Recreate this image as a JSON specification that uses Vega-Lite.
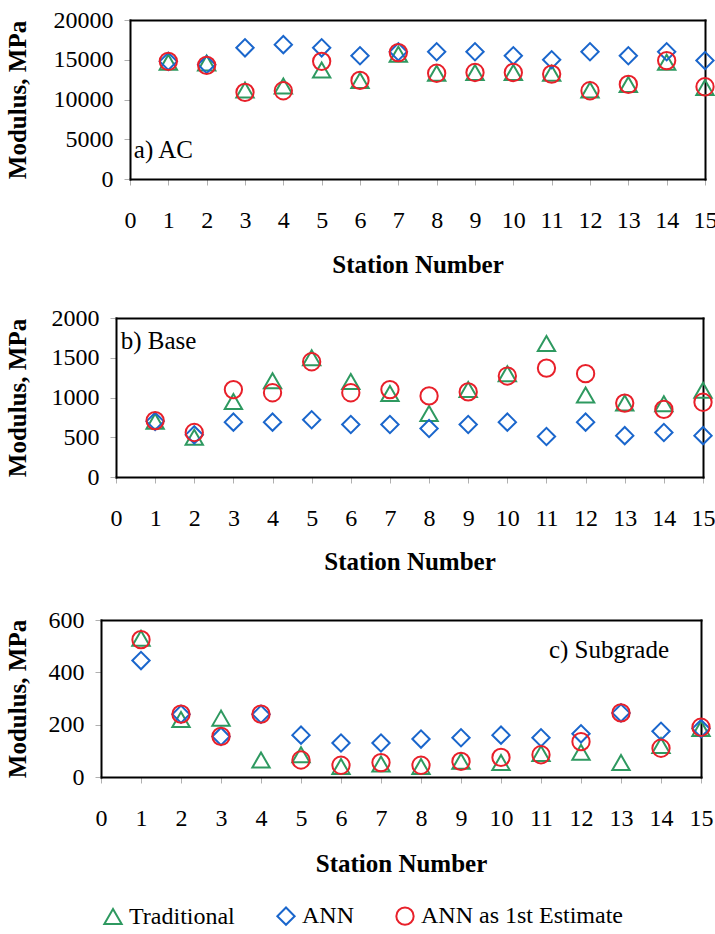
{
  "$schema": "https://vega.github.io/schema/vega-lite/v6.json",
  "padding": {"left": 5, "top": 8, "right": 0, "bottom": 5},
  "datasets": {
    "moduli": [
      {"panel": "AC", "station": 1, "series": "Traditional", "modulus": 14700},
      {"panel": "AC", "station": 2, "series": "Traditional", "modulus": 14600},
      {"panel": "AC", "station": 3, "series": "Traditional", "modulus": 11200},
      {"panel": "AC", "station": 4, "series": "Traditional", "modulus": 11700},
      {"panel": "AC", "station": 5, "series": "Traditional", "modulus": 13700},
      {"panel": "AC", "station": 6, "series": "Traditional", "modulus": 12400},
      {"panel": "AC", "station": 7, "series": "Traditional", "modulus": 15700},
      {"panel": "AC", "station": 8, "series": "Traditional", "modulus": 13300},
      {"panel": "AC", "station": 9, "series": "Traditional", "modulus": 13400},
      {"panel": "AC", "station": 10, "series": "Traditional", "modulus": 13400},
      {"panel": "AC", "station": 11, "series": "Traditional", "modulus": 13300},
      {"panel": "AC", "station": 12, "series": "Traditional", "modulus": 11200},
      {"panel": "AC", "station": 13, "series": "Traditional", "modulus": 11900},
      {"panel": "AC", "station": 14, "series": "Traditional", "modulus": 14700},
      {"panel": "AC", "station": 15, "series": "Traditional", "modulus": 11500},
      {"panel": "AC", "station": 1, "series": "ANN", "modulus": 14800},
      {"panel": "AC", "station": 2, "series": "ANN", "modulus": 14400},
      {"panel": "AC", "station": 3, "series": "ANN", "modulus": 16500},
      {"panel": "AC", "station": 4, "series": "ANN", "modulus": 16900},
      {"panel": "AC", "station": 5, "series": "ANN", "modulus": 16500},
      {"panel": "AC", "station": 6, "series": "ANN", "modulus": 15500},
      {"panel": "AC", "station": 7, "series": "ANN", "modulus": 16000},
      {"panel": "AC", "station": 8, "series": "ANN", "modulus": 16000},
      {"panel": "AC", "station": 9, "series": "ANN", "modulus": 16000},
      {"panel": "AC", "station": 10, "series": "ANN", "modulus": 15500},
      {"panel": "AC", "station": 11, "series": "ANN", "modulus": 15000},
      {"panel": "AC", "station": 12, "series": "ANN", "modulus": 16000},
      {"panel": "AC", "station": 13, "series": "ANN", "modulus": 15500},
      {"panel": "AC", "station": 14, "series": "ANN", "modulus": 16000},
      {"panel": "AC", "station": 15, "series": "ANN", "modulus": 14900},
      {"panel": "AC", "station": 1, "series": "ANN as 1st Estimate", "modulus": 14800},
      {"panel": "AC", "station": 2, "series": "ANN as 1st Estimate", "modulus": 14300},
      {"panel": "AC", "station": 3, "series": "ANN as 1st Estimate", "modulus": 10900},
      {"panel": "AC", "station": 4, "series": "ANN as 1st Estimate", "modulus": 11100},
      {"panel": "AC", "station": 5, "series": "ANN as 1st Estimate", "modulus": 14800},
      {"panel": "AC", "station": 6, "series": "ANN as 1st Estimate", "modulus": 12400},
      {"panel": "AC", "station": 7, "series": "ANN as 1st Estimate", "modulus": 15900},
      {"panel": "AC", "station": 8, "series": "ANN as 1st Estimate", "modulus": 13300},
      {"panel": "AC", "station": 9, "series": "ANN as 1st Estimate", "modulus": 13400},
      {"panel": "AC", "station": 10, "series": "ANN as 1st Estimate", "modulus": 13400},
      {"panel": "AC", "station": 11, "series": "ANN as 1st Estimate", "modulus": 13200},
      {"panel": "AC", "station": 12, "series": "ANN as 1st Estimate", "modulus": 11100},
      {"panel": "AC", "station": 13, "series": "ANN as 1st Estimate", "modulus": 11900},
      {"panel": "AC", "station": 14, "series": "ANN as 1st Estimate", "modulus": 14900},
      {"panel": "AC", "station": 15, "series": "ANN as 1st Estimate", "modulus": 11600},

      {"panel": "Base", "station": 1, "series": "Traditional", "modulus": 700},
      {"panel": "Base", "station": 2, "series": "Traditional", "modulus": 500},
      {"panel": "Base", "station": 3, "series": "Traditional", "modulus": 950},
      {"panel": "Base", "station": 4, "series": "Traditional", "modulus": 1210},
      {"panel": "Base", "station": 5, "series": "Traditional", "modulus": 1500},
      {"panel": "Base", "station": 6, "series": "Traditional", "modulus": 1200},
      {"panel": "Base", "station": 7, "series": "Traditional", "modulus": 1050},
      {"panel": "Base", "station": 8, "series": "Traditional", "modulus": 800},
      {"panel": "Base", "station": 9, "series": "Traditional", "modulus": 1100},
      {"panel": "Base", "station": 10, "series": "Traditional", "modulus": 1300},
      {"panel": "Base", "station": 11, "series": "Traditional", "modulus": 1680},
      {"panel": "Base", "station": 12, "series": "Traditional", "modulus": 1030},
      {"panel": "Base", "station": 13, "series": "Traditional", "modulus": 930},
      {"panel": "Base", "station": 14, "series": "Traditional", "modulus": 920},
      {"panel": "Base", "station": 15, "series": "Traditional", "modulus": 1090},
      {"panel": "Base", "station": 1, "series": "ANN", "modulus": 700},
      {"panel": "Base", "station": 2, "series": "ANN", "modulus": 530},
      {"panel": "Base", "station": 3, "series": "ANN", "modulus": 690},
      {"panel": "Base", "station": 4, "series": "ANN", "modulus": 690},
      {"panel": "Base", "station": 5, "series": "ANN", "modulus": 720},
      {"panel": "Base", "station": 6, "series": "ANN", "modulus": 660},
      {"panel": "Base", "station": 7, "series": "ANN", "modulus": 660},
      {"panel": "Base", "station": 8, "series": "ANN", "modulus": 610},
      {"panel": "Base", "station": 9, "series": "ANN", "modulus": 660},
      {"panel": "Base", "station": 10, "series": "ANN", "modulus": 690},
      {"panel": "Base", "station": 11, "series": "ANN", "modulus": 510},
      {"panel": "Base", "station": 12, "series": "ANN", "modulus": 690},
      {"panel": "Base", "station": 13, "series": "ANN", "modulus": 520},
      {"panel": "Base", "station": 14, "series": "ANN", "modulus": 560},
      {"panel": "Base", "station": 15, "series": "ANN", "modulus": 520},
      {"panel": "Base", "station": 1, "series": "ANN as 1st Estimate", "modulus": 710},
      {"panel": "Base", "station": 2, "series": "ANN as 1st Estimate", "modulus": 560},
      {"panel": "Base", "station": 3, "series": "ANN as 1st Estimate", "modulus": 1100},
      {"panel": "Base", "station": 4, "series": "ANN as 1st Estimate", "modulus": 1060},
      {"panel": "Base", "station": 5, "series": "ANN as 1st Estimate", "modulus": 1450},
      {"panel": "Base", "station": 6, "series": "ANN as 1st Estimate", "modulus": 1060},
      {"panel": "Base", "station": 7, "series": "ANN as 1st Estimate", "modulus": 1100},
      {"panel": "Base", "station": 8, "series": "ANN as 1st Estimate", "modulus": 1020},
      {"panel": "Base", "station": 9, "series": "ANN as 1st Estimate", "modulus": 1070},
      {"panel": "Base", "station": 10, "series": "ANN as 1st Estimate", "modulus": 1270},
      {"panel": "Base", "station": 11, "series": "ANN as 1st Estimate", "modulus": 1370},
      {"panel": "Base", "station": 12, "series": "ANN as 1st Estimate", "modulus": 1300},
      {"panel": "Base", "station": 13, "series": "ANN as 1st Estimate", "modulus": 930},
      {"panel": "Base", "station": 14, "series": "ANN as 1st Estimate", "modulus": 850},
      {"panel": "Base", "station": 15, "series": "ANN as 1st Estimate", "modulus": 940},

      {"panel": "Subgrade", "station": 1, "series": "Traditional", "modulus": 530},
      {"panel": "Subgrade", "station": 2, "series": "Traditional", "modulus": 220},
      {"panel": "Subgrade", "station": 3, "series": "Traditional", "modulus": 225},
      {"panel": "Subgrade", "station": 4, "series": "Traditional", "modulus": 65},
      {"panel": "Subgrade", "station": 5, "series": "Traditional", "modulus": 85},
      {"panel": "Subgrade", "station": 6, "series": "Traditional", "modulus": 40},
      {"panel": "Subgrade", "station": 7, "series": "Traditional", "modulus": 50},
      {"panel": "Subgrade", "station": 8, "series": "Traditional", "modulus": 40},
      {"panel": "Subgrade", "station": 9, "series": "Traditional", "modulus": 60},
      {"panel": "Subgrade", "station": 10, "series": "Traditional", "modulus": 55},
      {"panel": "Subgrade", "station": 11, "series": "Traditional", "modulus": 90},
      {"panel": "Subgrade", "station": 12, "series": "Traditional", "modulus": 95},
      {"panel": "Subgrade", "station": 13, "series": "Traditional", "modulus": 55},
      {"panel": "Subgrade", "station": 14, "series": "Traditional", "modulus": 120},
      {"panel": "Subgrade", "station": 15, "series": "Traditional", "modulus": 185},
      {"panel": "Subgrade", "station": 1, "series": "ANN", "modulus": 445},
      {"panel": "Subgrade", "station": 2, "series": "ANN", "modulus": 240},
      {"panel": "Subgrade", "station": 3, "series": "ANN", "modulus": 155},
      {"panel": "Subgrade", "station": 4, "series": "ANN", "modulus": 240},
      {"panel": "Subgrade", "station": 5, "series": "ANN", "modulus": 160},
      {"panel": "Subgrade", "station": 6, "series": "ANN", "modulus": 130},
      {"panel": "Subgrade", "station": 7, "series": "ANN", "modulus": 130},
      {"panel": "Subgrade", "station": 8, "series": "ANN", "modulus": 145},
      {"panel": "Subgrade", "station": 9, "series": "ANN", "modulus": 150},
      {"panel": "Subgrade", "station": 10, "series": "ANN", "modulus": 160},
      {"panel": "Subgrade", "station": 11, "series": "ANN", "modulus": 150},
      {"panel": "Subgrade", "station": 12, "series": "ANN", "modulus": 165},
      {"panel": "Subgrade", "station": 13, "series": "ANN", "modulus": 245},
      {"panel": "Subgrade", "station": 14, "series": "ANN", "modulus": 175},
      {"panel": "Subgrade", "station": 15, "series": "ANN", "modulus": 185},
      {"panel": "Subgrade", "station": 1, "series": "ANN as 1st Estimate", "modulus": 525},
      {"panel": "Subgrade", "station": 2, "series": "ANN as 1st Estimate", "modulus": 240},
      {"panel": "Subgrade", "station": 3, "series": "ANN as 1st Estimate", "modulus": 155},
      {"panel": "Subgrade", "station": 4, "series": "ANN as 1st Estimate", "modulus": 240},
      {"panel": "Subgrade", "station": 5, "series": "ANN as 1st Estimate", "modulus": 65},
      {"panel": "Subgrade", "station": 6, "series": "ANN as 1st Estimate", "modulus": 45},
      {"panel": "Subgrade", "station": 7, "series": "ANN as 1st Estimate", "modulus": 55},
      {"panel": "Subgrade", "station": 8, "series": "ANN as 1st Estimate", "modulus": 45},
      {"panel": "Subgrade", "station": 9, "series": "ANN as 1st Estimate", "modulus": 60},
      {"panel": "Subgrade", "station": 10, "series": "ANN as 1st Estimate", "modulus": 75},
      {"panel": "Subgrade", "station": 11, "series": "ANN as 1st Estimate", "modulus": 85},
      {"panel": "Subgrade", "station": 12, "series": "ANN as 1st Estimate", "modulus": 135},
      {"panel": "Subgrade", "station": 13, "series": "ANN as 1st Estimate", "modulus": 245},
      {"panel": "Subgrade", "station": 14, "series": "ANN as 1st Estimate", "modulus": 110},
      {"panel": "Subgrade", "station": 15, "series": "ANN as 1st Estimate", "modulus": 190}
    ]
  },
  "spacing": 29,
  "resolve": {"scale": {"x": "independent", "y": "independent", "color": "shared", "shape": "shared"}},
  "vconcat": [
    {
      "width": 604,
      "height": 159,
      "resolve": {"axis": {"x": "independent", "y": "independent"}},
      "layer": [
        {
          "data": {"name": "moduli"},
          "transform": [{"filter": "datum.panel === 'AC'"}],
          "mark": {"type": "point", "filled": false, "size": 300, "strokeWidth": 2, "opacity": 1},
          "encoding": {
            "x": {"field": "station", "type": "quantitative", "scale": {"domain": [0, 15], "nice": false, "range": [29, 604]},
                  "axis": {"values": [0,1,2,3,4,5,6,7,8,9,10,11,12,13,14,15], "labelOverlap": false, "title": "Station Number", "titlePadding": 20}},
            "y": {"field": "modulus", "type": "quantitative", "scale": {"domain": [0, 20000], "nice": false},
                  "axis": {"values": [0, 5000, 10000, 15000, 20000], "format": "d", "offset": -29, "title": "Modulus, MPa", "titlePadding": 23}},
            "color": {"field": "series", "type": "nominal",
                      "scale": {"domain": ["Traditional", "ANN", "ANN as 1st Estimate"], "range": ["#2e9960", "#1a66cc", "#e8202a"]},
                      "legend": {"title": null}},
            "shape": {"field": "series", "type": "nominal",
                      "scale": {"domain": ["Traditional", "ANN", "ANN as 1st Estimate"], "range": ["triangle-up", "diamond", "circle"]},
                      "legend": {"title": null}}
          }
        },
        {
          "data": {"values": [{"label": "a) AC"}]},
          "mark": {"type": "text", "align": "left", "baseline": "middle", "fontSize": 25, "font": "Liberation Serif", "color": "black"},
          "encoding": {
            "x": {"datum": 0.1, "type": "quantitative", "axis": {"orient": "top", "labels": false, "ticks": false, "title": null}},
            "y": {"datum": 3700, "type": "quantitative", "axis": {"orient": "right", "labels": false, "ticks": false, "title": null}},
            "text": {"field": "label"}
          }
        }
      ]
    },
    {
      "spacing": 34,
      "resolve": {"scale": {"x": "independent", "y": "independent", "color": "shared", "shape": "shared"}},
      "vconcat": [
        {
          "width": 602,
          "height": 159,
          "resolve": {"axis": {"x": "independent", "y": "independent"}},
          "layer": [
            {
              "data": {"name": "moduli"},
              "transform": [{"filter": "datum.panel === 'Base'"}],
              "mark": {"type": "point", "filled": false, "size": 300, "strokeWidth": 2, "opacity": 1},
              "encoding": {
                "x": {"field": "station", "type": "quantitative", "scale": {"domain": [0, 15], "nice": false, "range": [15, 602]},
                      "axis": {"values": [0,1,2,3,4,5,6,7,8,9,10,11,12,13,14,15], "labelOverlap": false, "title": "Station Number", "titlePadding": 19}},
                "y": {"field": "modulus", "type": "quantitative", "scale": {"domain": [0, 2000], "nice": false},
                      "axis": {"values": [0, 500, 1000, 1500, 2000], "format": "d", "offset": -15, "title": "Modulus, MPa", "titlePadding": 21}},
                "color": {"field": "series", "type": "nominal",
                          "scale": {"domain": ["Traditional", "ANN", "ANN as 1st Estimate"], "range": ["#2e9960", "#1a66cc", "#e8202a"]},
                          "legend": {"title": null}},
                "shape": {"field": "series", "type": "nominal",
                          "scale": {"domain": ["Traditional", "ANN", "ANN as 1st Estimate"], "range": ["triangle-up", "diamond", "circle"]},
                          "legend": {"title": null}}
              }
            },
            {
              "data": {"values": [{"label": "b) Base"}]},
              "mark": {"type": "text", "align": "left", "baseline": "middle", "fontSize": 25, "font": "Liberation Serif", "color": "black"},
              "encoding": {
                "x": {"datum": 0.12, "type": "quantitative", "axis": {"orient": "top", "labels": false, "ticks": false, "title": null}},
                "y": {"datum": 1710, "type": "quantitative", "axis": {"orient": "right", "labels": false, "ticks": false, "title": null}},
                "text": {"field": "label"}
              }
            }
          ]
        },
        {
          "width": 600,
          "height": 157,
          "resolve": {"axis": {"x": "independent", "y": "independent"}},
          "layer": [
            {
              "data": {"name": "moduli"},
              "transform": [{"filter": "datum.panel === 'Subgrade'"}],
              "mark": {"type": "point", "filled": false, "size": 300, "strokeWidth": 2, "opacity": 1},
              "encoding": {
                "x": {"field": "station", "type": "quantitative", "scale": {"domain": [0, 15], "nice": false},
                      "axis": {"values": [0,1,2,3,4,5,6,7,8,9,10,11,12,13,14,15], "labelOverlap": false, "title": "Station Number", "titlePadding": 21}},
                "y": {"field": "modulus", "type": "quantitative", "scale": {"domain": [0, 600], "nice": false},
                      "axis": {"values": [0, 200, 400, 600], "format": "d", "title": "Modulus, MPa", "titlePadding": 18}},
                "color": {"field": "series", "type": "nominal",
                          "scale": {"domain": ["Traditional", "ANN", "ANN as 1st Estimate"], "range": ["#2e9960", "#1a66cc", "#e8202a"]},
                          "legend": {"title": null}},
                "shape": {"field": "series", "type": "nominal",
                          "scale": {"domain": ["Traditional", "ANN", "ANN as 1st Estimate"], "range": ["triangle-up", "diamond", "circle"]},
                          "legend": {"title": null}}
              }
            },
            {
              "data": {"values": [{"label": "c) Subgrade"}]},
              "mark": {"type": "text", "align": "right", "baseline": "middle", "fontSize": 25, "font": "Liberation Serif", "color": "black"},
              "encoding": {
                "x": {"datum": 14.2, "type": "quantitative", "axis": {"orient": "top", "labels": false, "ticks": false, "title": null}},
                "y": {"datum": 485, "type": "quantitative", "axis": {"orient": "right", "labels": false, "ticks": false, "title": null}},
                "text": {"field": "label"}
              }
            }
          ]
        }
      ]
    }
  ],
  "config": {
    "font": "Liberation Serif",
    "view": {"stroke": null},
    "axis": {
      "grid": false,
      "labelFont": "Liberation Serif",
      "labelFontSize": 24,
      "labelColor": "black",
      "labelOverlap": false,
      "titleFont": "Liberation Serif",
      "titleFontSize": 25,
      "titleFontWeight": "bold",
      "titleColor": "black",
      "domainColor": "black",
      "domainWidth": 2,
      "domainCap": "square",
      "tickColor": "#b0b0b0",
      "tickSize": 6
    },
    "axisX": {"labelPadding": 23, "labelFlush": false},
    "axisY": {"labelPadding": 11},
    "legend": {
      "orient": "bottom",
      "direction": "horizontal",
      "labelFont": "Liberation Serif",
      "labelFontSize": 24,
      "labelColor": "black",
      "labelLimit": 0,
      "symbolSize": 300,
      "symbolStrokeWidth": 2,
      "columnPadding": 38,
      "labelOffset": 4,
      "offset": 28
    }
  }
}
